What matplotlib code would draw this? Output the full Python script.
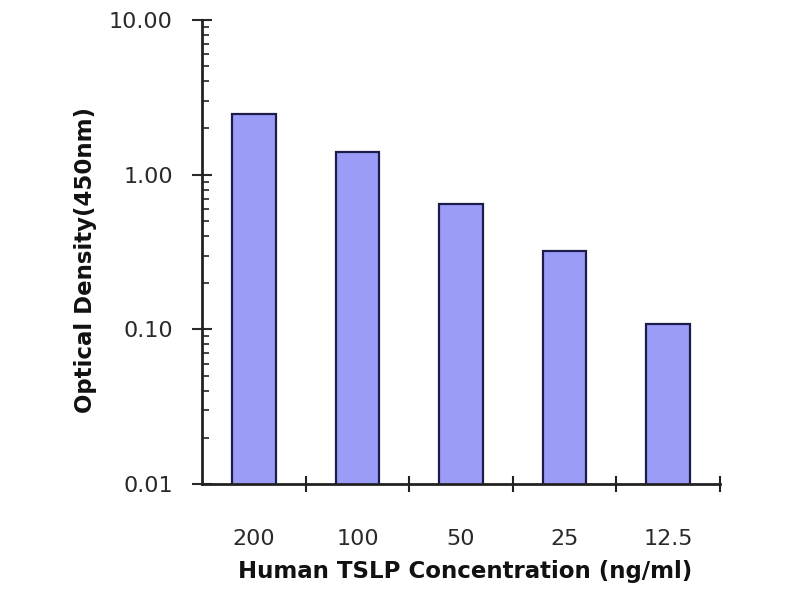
import matplotlib.pyplot as plt
import numpy as np
from matplotlib.ticker import LogLocator, FixedLocator, NullFormatter

plt.rcParams['font.family'] = ['DejaVu Sans']

concentrations = ['200', '100', '50', '25', '12.5']
optical_density = [2.48, 1.41, 0.65, 0.32, 0.109]
y_ticks = [0.01, 0.1, 1, 10]
y_tick_labels = ['0.01', '0.10', '1.00', '10.00']

fig = plt.figure(figsize=(8, 6), dpi=100)
ax = fig.add_axes([0.2525, 0.193, 0.6475, 0.774])

x = np.arange(len(concentrations))
ax.bar(x, optical_density, width=0.42, color='#9a9cf7', edgecolor='#1c1c4a',
       linewidth=1.6, zorder=2)

ax.set_yscale('log')
ax.set_ylim(0.01, 10)
ax.set_xlim(-0.5, len(concentrations) - 0.5)

ax.set_yticks(y_ticks)
ax.set_yticklabels(y_tick_labels)
ax.yaxis.set_minor_locator(LogLocator(base=10, subs=np.arange(2, 10)))
ax.yaxis.set_minor_formatter(NullFormatter())
ax.tick_params(axis='y', which='major', direction='inout', length=14, width=1.5,
               labelsize=16, pad=14, colors='#2a2a2a')
ax.tick_params(axis='y', which='minor', direction='in', length=5, width=1.2,
               color='#222222')

ax.set_xticks(x)
ax.set_xticklabels(concentrations)
ax.xaxis.set_minor_locator(FixedLocator(list(x + 0.5)))
ax.tick_params(axis='x', which='major', length=0, labelsize=16, pad=32,
               colors='#2a2a2a')
ax.tick_params(axis='x', which='minor', direction='inout', length=12, width=1.5,
               color='#222222')

for side in ['top', 'right']:
    ax.spines[side].set_visible(False)
for side in ['left', 'bottom']:
    ax.spines[side].set_linewidth(2)
    ax.spines[side].set_color('#222222')

fig.text(0.581, 0.047, 'Human TSLP Concentration (ng/ml)', ha='center', va='center',
         fontsize=16.5, fontweight='bold', color='#111111')
fig.text(0.1075, 0.567, 'Optical Density(450nm)', ha='center', va='center',
         rotation=90, fontsize=16.5, fontweight='bold', color='#111111')

fig.savefig('out.png', dpi=100)
